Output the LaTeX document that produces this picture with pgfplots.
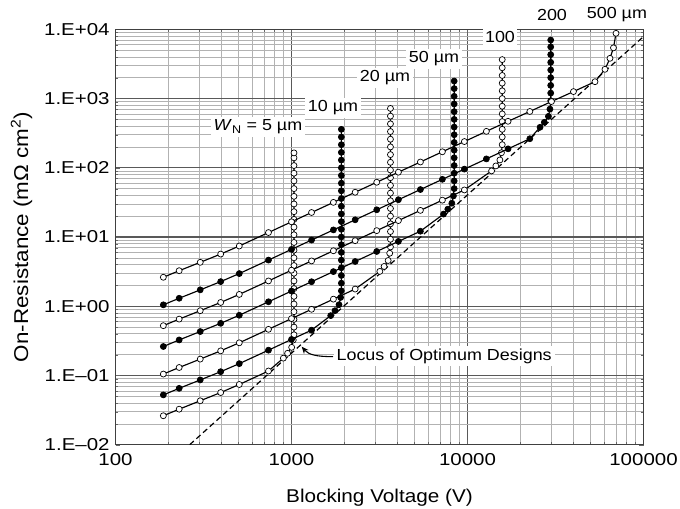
\documentclass[border=0pt]{standalone}
\usepackage{pgfplots}
\pgfplotsset{compat=1.18}
\usepackage{fontspec}
\setmainfont{Liberation Sans}[FakeStretch=1.12]
\newfontfamily\tickfont{Liberation Sans}[FakeStretch=1.19]
\usetikzlibrary{arrows.meta}
\begin{document}
\begin{tikzpicture}
\useasboundingbox (-115.5bp,-64.3bp) rectangle (564.5bp,444.7bp);
\begin{axis}[
  at={(0,0)}, anchor=south west,
  width=528bp, height=415.4bp, scale only axis,
  xmode=log, ymode=log,
  xmin=100, xmax=100000, ymin=0.01, ymax=10000,
  xtick={100,1000,10000,100000},
  xticklabels={100,1000,10000,100000},
  ytick={0.01,0.1,1,10,100,1000,10000},
  yticklabels={1.E–02,1.E–01,1.E+00,1.E+01,1.E+02,1.E+03,1.E+04},
  ticklabel style={font=\tickfont\fontsize{17.2bp}{20bp}\selectfont, inner sep=1bp},
  xticklabel style={yshift=-7.5bp},
  yticklabel style={xshift=-4.7bp},
  grid=both,
  major grid style={black!65, line width=1.1pt},
  minor grid style={black!30, line width=0.6pt},
  axis line style={black!75, line width=0.8pt},
  tick style={black!60},
  clip mode=individual,
  xlabel={Blocking Voltage (V)},
  ylabel={On-Resistance (mΩ cm\textsuperscript{2})},
  xlabel style={font=\fontsize{18.5bp}{22bp}\selectfont, at={(axis description cs:0.5,0)}, anchor=center, yshift=-53.5bp},
  ylabel style={font=\fontsize{20bp}{24bp}\selectfont, at={(axis description cs:-0.178,0.5)}, anchor=center},
  every axis plot/.append style={line width=1.15pt},
  mark size=3bp,
]
% optimum locus
\addplot[black, line width=1.2pt, dash pattern=on 5.5bp off 3.5bp] coordinates {(264,0.01)(100000,7850)};

% W = 5 um (open)
\addplot[black, mark=*, mark options={fill=white, draw=black, line width=0.7pt}] coordinates {
(187,0.0262)(230,0.0326)(303,0.0431)(396,0.0567)(505,0.0741)(740,0.116)(899,0.178)(950,0.209)(1002,0.255)(1023,0.325)
(1033,0.387)(1033,0.5)(1033,0.646)(1033,0.834)(1033,1.077)(1033,1.39)(1033,1.80)(1033,2.32)(1033,3.0)(1033,3.87)
(1033,5)(1033,6.46)(1033,8.34)(1033,10.77)(1033,13.9)(1033,17.97)(1033,23.2)(1033,30.0)(1033,38.7)(1033,50)
(1033,64.6)(1033,83.4)(1033,107.7)(1033,139)(1033,164)};
% W = 10 um (filled)
\addplot[black, mark=*, mark options={fill=black, draw=black, line width=0.7pt}] coordinates {
(187,0.0524)(230,0.0652)(303,0.0862)(396,0.1134)(505,0.1482)(740,0.232)(1000,0.3315)(1300,0.4517)(1670,0.732)(1766,0.863)(1862,1.053)(1901,1.34)
(1920,1.668)(1920,2.154)(1920,2.783)(1920,3.594)(1920,4.642)(1920,5.995)(1920,7.743)(1920,10)(1920,12.92)(1920,16.68)
(1920,21.54)(1920,27.83)(1920,35.94)(1920,46.42)(1920,59.95)(1920,77.43)(1920,100)(1920,129.2)(1920,166.8)(1920,215.4)(1920,278.3)(1920,359)};
% W = 20 um (open)
\addplot[black, mark=*, mark options={fill=white, draw=black, line width=0.7pt}] coordinates {
(187,0.1048)(230,0.1304)(303,0.1724)(396,0.2268)(505,0.2964)(740,0.464)(1000,0.663)(1300,0.903)(1730,1.266)(2300,1.771)
(3176,3.185)(3358,3.753)(3541,4.576)(3614,5.826)
(3650,7.19)(3650,9.28)(3650,11.99)(3650,15.49)(3650,20)(3650,25.84)(3650,33.36)(3650,43.08)(3650,55.66)(3650,71.88)
(3650,92.84)(3650,119.9)(3650,154.9)(3650,200)(3650,258.4)(3650,333.6)(3650,430.8)(3650,556.6)(3650,720)};
% W = 50 um (filled)
\addplot[black, mark=*, mark options={fill=black, draw=black, line width=0.7pt}] coordinates {
(187,0.262)(230,0.326)(303,0.431)(396,0.567)(505,0.741)(740,1.16)(1000,1.658)(1300,2.259)(1730,3.164)(2300,4.428)(3050,6.18)(4050,8.635)(5400,12.12)
(7308,21.42)(7728,25.24)(8148,30.77)(8316,39.18)
(8400,50)(8400,64.6)(8400,83.4)(8400,107.7)(8400,139.2)(8400,179.7)(8400,232.1)(8400,299.7)(8400,387.2)(8400,500)
(8400,645.8)(8400,834.1)(8400,1077)(8400,1392)(8400,1790)};
% W = 100 um (open)
\addplot[black, mark=*, mark options={fill=white, draw=black, line width=0.7pt}] coordinates {
(187,0.524)(230,0.652)(303,0.862)(396,1.134)(505,1.482)(740,2.32)(1000,3.315)(1300,4.517)(1730,6.328)(2300,8.855)(3050,12.36)(4050,17.27)(5400,24.24)(7200,34.04)(9600,47.81)
(13700,90.1)(14490,106.3)(15278,129.6)(15592,164.9)
(15750,215.4)(15750,278.3)(15750,359.4)(15750,464.2)(15750,599.5)(15750,774.3)(15750,1000)(15750,1292)(15750,1668)(15750,2154)(15750,2783)(15750,3650)};
% W = 200 um (filled)
\addplot[black, mark=*, mark options={fill=black, draw=black, line width=0.7pt}] coordinates {
(187,1.048)(230,1.304)(303,1.724)(396,2.268)(505,2.964)(740,4.64)(1000,6.63)(1300,9.034)(1730,12.66)(2300,17.71)(3050,24.72)(4050,34.54)(5400,48.48)(7200,68.08)(9600,95.62)(12800,134.3)(17000,187.6)(22600,262.6)
(25840,384.8)(27320,453.4)(28810,552.8)(29400,703.5)
(29700,928.4)(29700,1199)(29700,1549)(29700,2000)(29700,2584)(29700,3336)(29700,4308)(29700,5566)(29700,7000)};
% W = 500 um (open)
\addplot[black, mark=*, mark options={fill=white, draw=black, line width=0.7pt}] coordinates {
(187,2.62)(230,3.26)(303,4.31)(396,5.67)(505,7.41)(740,11.6)(1000,16.58)(1300,22.59)(1730,31.64)(2300,44.28)(3050,61.8)(4050,86.35)(5400,121.2)(7200,170.2)(9600,239.1)(12800,335.7)(17000,469)(22600,650)(30000,905)(40000,1260)(53000,1750)
(60400,2643)(64500,3810)(67500,5400)(69800,8750)};

% annotations
\draw[black, line width=1.1pt, -{Stealth[length=7bp,width=6bp]}] (axis cs:1721,0.187) .. controls (axis cs:1380,0.187) and (axis cs:1250,0.20) .. (axis cs:1143,0.26);
\node[fill=white, inner sep=3bp, anchor=west, font=\fontsize{16bp}{19bp}\selectfont] at (axis cs:1730,0.191) {Locus of Optimum Designs};
\node[fill=white, inner sep=3bp, font=\fontsize{16bp}{19bp}\selectfont] at (axis cs:645,388) {\textit{W}\textsubscript{N} = 5 µm};
\node[fill=white, inner sep=2.5bp, font=\fontsize{16bp}{19bp}\selectfont] at (axis cs:1722,729) {10 µm};
\node[fill=white, inner sep=2.5bp, font=\fontsize{16bp}{19bp}\selectfont] at (axis cs:3396,1982) {20 µm};
\node[fill=white, inner sep=2.5bp, font=\fontsize{16bp}{19bp}\selectfont] at (axis cs:6452,3724) {50 µm};
\node[fill=white, inner sep=2.5bp, font=\fontsize{16bp}{19bp}\selectfont] at (axis cs:15300,7780) {100};
\node[inner sep=2bp, font=\fontsize{16bp}{19bp}\selectfont] at (axis cs:30200,16100) {200};
\node[inner sep=2bp, font=\fontsize{16bp}{19bp}\selectfont] at (axis cs:70600,16100) {500 µm};
\end{axis}
\end{tikzpicture}
\end{document}
